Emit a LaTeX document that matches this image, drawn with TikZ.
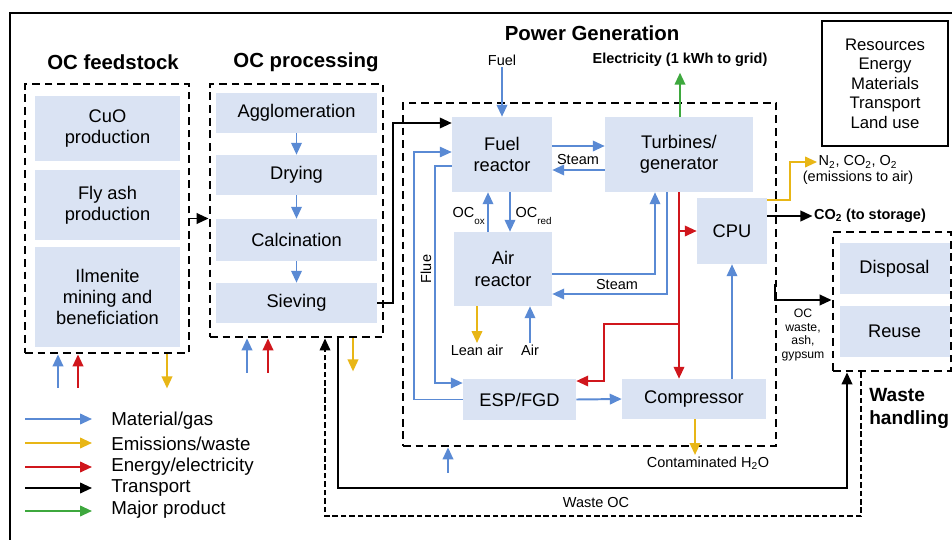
\documentclass[tikz,border=0pt]{standalone}
\usepackage{fontspec}
\setmainfont{Liberation Sans}
\usetikzlibrary{arrows.meta,calc}

\definecolor{boxfill}{RGB}{218,227,243}
\definecolor{matblue}{RGB}{90,138,212}
\definecolor{emisyellow}{RGB}{232,182,22}
\definecolor{enerred}{RGB}{208,22,28}
\definecolor{prodgreen}{RGB}{62,168,62}

\tikzset{
  pbox/.style 2 args={fill=boxfill, align=center, inner sep=0pt,
    minimum width=#1*0.025cm, minimum height=#2*0.025cm,
    font=\fontsize{13}{15}\selectfont},
  grp/.style 2 args={draw, line width=2pt, dash pattern=on 5.5pt off 3.5pt,
    minimum width=#1*0.025cm, minimum height=#2*0.025cm, inner sep=0pt},
  mat/.style={matblue, line width=1.4pt, ->},
  matthin/.style={mat, line width=0.8pt},
  emis/.style={emisyellow, line width=1.4pt, ->},
  ener/.style={enerred, line width=1.4pt, ->},
  trans/.style={black, line width=1.4pt, ->},
  prod/.style={prodgreen, line width=1.4pt, ->},
  lbl/.style={font=\fontsize{10.3}{12}\selectfont, inner sep=1pt},
  ttl/.style={font=\fontsize{14.5}{16.4}\selectfont\bfseries},
  legtxt/.style={font=\fontsize{13.3}{15}\selectfont, anchor=west, inner sep=0pt}
}

\begin{document}
\begin{tikzpicture}[x=0.025cm, y=-0.025cm, >={Triangle[length=8.5pt,width=7.5pt]}]
		\useasboundingbox (0,0) rectangle (952,539);
		\clip (0,0) rectangle (952,539);

		% 1. Outer frame
		\draw[line width=2pt] (10,13) rectangle (1000,600);

		% 2. Dashed groups and their titles
		\node[grp={164}{269}] (feed) at (107,218.5) {};
		\node[grp={173}{253}] (proc) at (296.5,210.5) {};
		\node[grp={373}{343}] (power) at (589.5,274.5) {};
		\node[grp={118}{139}] (waste) at (892,301.5) {};
		\node[ttl] (tfeed) at (113,62) {OC feedstock};
		\node[ttl] (tproc) at (306,62) {OC processing};
		\node[ttl] (tpower) at (592,33) {Power Generation};
		\node[ttl, font=\fontsize{13.6}{16.4}\selectfont\bfseries, anchor=west, align=left, inner sep=0pt]
			(twaste) at (869,408) {Waste\\handling};

		% 3. OC feedstock
		\node[pbox={145}{65}] (cuo) at (107.5,128.5) {CuO\\production};
		\node[pbox={145}{70}] (flyash) at (107.5,205) {Fly ash\\production};
		\node[pbox={145}{100}] (ilm) at (107.5,297) {Ilmenite\\mining and\\beneficiation};
		\draw[mat,<-] (feed.south -| 58,0) -- ++(0,34);
		\draw[ener,<-] (feed.south -| 78,0) -- ++(0,34);
		\draw[emis] (feed.south -| 167,0) -- ++(0,34);
		\draw[trans] (feed.east) -- (proc.west |- feed.east);

		% 4. OC processing
		\node[pbox={161}{40}] (agglo) at (296.5,113) {Agglomeration};
		\node[pbox={161}{40}] (dry) at (296.5,175) {Drying};
		\node[pbox={161}{42}] (calcin) at (296.5,240) {Calcination};
		\node[pbox={161}{40}] (siev) at (296.5,303) {Sieving};
		\draw[mat] (agglo) -- (dry);
		\draw[mat] (dry) -- (calcin);
		\draw[mat] (calcin) -- (siev);
		\draw[mat,<-] (proc.south -| 247,0) -- ++(0,35);
		\draw[ener,<-] (proc.south -| 268,0) -- ++(0,35);
		\draw[emis] (proc.south -| 353,0) -- ++(0,33);

		% 5. Power generation
		\node[pbox={100}{75}] (fuelr) at (502,154.5) {Fuel\\reactor};
		\node[pbox={148}{75}] (turb) at (679,154.5) {Turbines/\\generator};
		\node[pbox={98}{74}] (airr) at (503,269) {Air\\reactor};
		\node[pbox={70}{66}] (cpu) at (732,231) {CPU};
		\node[pbox={113}{41}] (esp) at (519.5,399.5) {ESP/FGD};
		\node[pbox={144}{40}] (comp) at (694,399) {Compressor};
		\draw[trans] (siev.east) -| (393,123) -- (fuelr.west |- 0,123);

		\node[lbl] (fuellbl) at (502,60) {Fuel};
		\node[lbl, font=\fontsize{10.3}{12}\selectfont\bfseries] (elec) at (680,60) {Electricity (1 kWh to grid)};
		\draw[mat] (fuellbl) -- (fuelr);
		\draw[prod, shorten >=3pt] (turb.north -| elec) -- (elec.south);

		% steam loops
		\draw[mat] (fuelr.east |- 0,146) -- (turb.west |- 0,146);
		\draw[mat] (turb.west |- 0,170) -- (fuelr.east |- 0,170);
		\node[lbl] (steam1) at (578,160) {Steam};
		\draw[mat] (airr.east |- 0,274) -| (turb.south -| 655,0);
		\draw[mat] (turb.south -| 667,0) |- (airr.east |- 0,294);
		\node[lbl] (steam2) at (617,285) {Steam};

		% oxygen carrier between reactors
		\draw[mat] (airr.north -| 488,0) -- (fuelr.south -| 488,0);
		\draw[mat] (fuelr.south -| 510,0) -- (airr.north -| 510,0);
		\node[lbl, anchor=base west] (ocox) at (451,217) {OC\raisebox{-5pt}{\fontsize{7}{8}\selectfont ox}};
		\node[lbl, anchor=base west] (ocred) at (514,217) {OC\raisebox{-5pt}{\fontsize{7}{8}\selectfont red}};

		% air side
		\node[lbl] (lean) at (477,350) {Lean air};
		\node[lbl] (airin) at (530,350) {Air};
		\draw[emis] (airr.south -| lean) -- (lean);
		\draw[mat] (airin) -- (airr.south -| airin);

		% flue gas
		\draw[matthin] (esp.west) -- (414,399.5) -- (414,152) -- (fuelr.west |- 0,152);
		\draw[mat] (fuelr.west |- 0,166) -- (435,166) -- (435,383) -- (esp.west |- 0,383);
		\node[lbl, rotate=90] (flue) at (426,269) {Flue};
		\draw[mat] (esp.east) -- (comp.west);
		\draw[mat] (comp.north -| cpu.south) -- (cpu.south);

		% electricity to units
		\coordinate (rsplit1) at (679,231);
		\coordinate (rsplit2) at (679,324);
		\draw[ener] (turb.south -| 679,0) -- (comp.north -| 679,0);
		\draw[ener] (rsplit1) -- (cpu.west |- rsplit1);
		\draw[ener] (rsplit2) -| (604,381) -- (esp.east |- 0,381);

		% outputs
		\node[lbl] (h2o) at (708,463) {Contaminated H\textsubscript{2}O};
		\draw[emis] (comp.south -| 695,0) -- (h2o.north -| 695,0);
		\draw[mat,<-] (power.south -| 448,0) -- ++(0,26);
		\node[lbl] (n2) at (858,162) {N\textsubscript{2}, CO\textsubscript{2}, O\textsubscript{2}};
		\node[lbl] (emair) at (858,178) {(emissions to air)};
		\draw[emis] (cpu.east |- 0,200) -- (790,200) |- (n2.west);
		\node[lbl, font=\fontsize{10.3}{12}\selectfont\bfseries] (co2) at (870,216) {CO\textsubscript{2} (to storage)};
		\draw[trans] (cpu.east |- co2.west) -- (co2.west);

		% 6. Waste handling
		\node[pbox={110}{51}] (disp) at (894.5,268.5) {Disposal};
		\node[pbox={110}{51}] (reuse) at (894.5,331.5) {Reuse};
		\coordinate (ocwst) at (775,284);
		\draw[trans] (ocwst) |- (waste.west |- 0,300);
		\node[font=\fontsize{8.7}{9.5}\selectfont, align=center, inner sep=0pt] (ocwlbl) at (803,335) {OC\\waste,\\ash,\\gypsum};
		\draw[trans] (proc.south -| 338,0) |- (847,488) -- (waste.south -| 847,0);
		\draw[trans, line width=1.2pt, dash pattern=on 4pt off 2pt] (waste.south -| 861,0) |- (325,516) -- (proc.south -| 325,0);
		\node[lbl] (wasteoc) at (596,503) {Waste OC};

		% 7. Resources box
		\node[draw, line width=0.8pt, minimum width=126*0.025cm, minimum height=125*0.025cm,
			align=center, font=\fontsize{11.9}{13.9}\selectfont] (res) at (885,83.5)
			{Resources\\Energy\\Materials\\Transport\\Land use};

		% 8. Legend
		\node[legtxt] (leg1) at (111,421) {Material/gas};
		\node[legtxt] (leg2) at (111,444) {Emissions/waste};
		\node[legtxt] (leg3) at (111,467) {Energy/electricity};
		\node[legtxt] (leg4) at (111,488) {Transport};
		\node[legtxt] (leg5) at (111,510) {Major product};
		\draw[mat] (leg1.west) ++(-86,-2) -- ++(67,0);
		\draw[emis] (leg2.west) ++(-86,-1) -- ++(67,0);
		\draw[ener] (leg3.west) ++(-86,0) -- ++(67,0);
		\draw[trans] (leg4.west) ++(-86,0) -- ++(67,0);
		\draw[prod] (leg5.west) ++(-86,1) -- ++(67,0);
	\end{tikzpicture}
\end{document}
